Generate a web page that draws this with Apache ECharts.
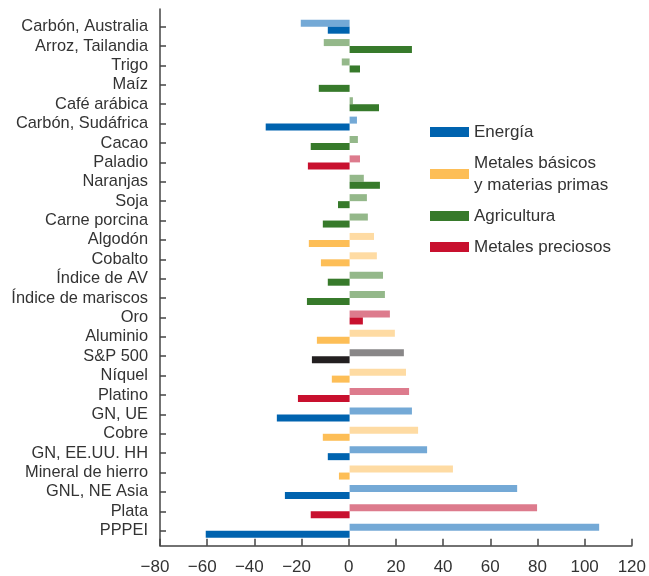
<!DOCTYPE html>
<html><head><meta charset="utf-8">
<script src="https://cdn.jsdelivr.net/npm/echarts@6/dist/echarts.min.js"></script>
<style>html,body{margin:0;padding:0;background:#fff}#c{width:649px;height:576px}</style>
</head><body><div id="c"></div>
<script>
const categories = ["Carbón, Australia","Arroz, Tailandia","Trigo","Maíz","Café arábica","Carbón, Sudáfrica","Cacao","Paladio","Naranjas","Soja","Carne porcina","Algodón","Cobalto","Índice de AV","Índice de mariscos","Oro","Aluminio","S&P 500","Níquel","Platino","GN, UE","Cobre","GN, EE.UU. HH","Mineral de hierro","GNL, NE Asia","Plata","PPPEI"];
const groups = ["E","A","A","A","A","E","A","P","A","A","A","M","M","A","A","P","M","S","M","P","E","M","E","M","E","P","E"];
const lightValues = [-20.6,-10.9,-3.3,0,1.4,3.1,3.5,4.4,6.0,7.3,7.7,10.3,11.5,14.1,14.9,17.0,19.1,22.9,23.8,25.1,26.3,28.9,32.7,43.6,70.7,79.1,105.3];
const darkValues = [-9.2,26.3,4.4,-13.0,12.4,-35.4,-16.4,-17.6,12.8,-4.9,-11.3,-17.2,-12.1,-9.2,-18.0,5.6,-13.8,-15.9,-7.5,-21.8,-30.7,-11.3,-9.2,-4.5,-27.3,-16.4,-60.7];
const legendNames = ["Energía","Metales básicos\ny materias primas","Agricultura","Metales preciosos"];
const legendGroups = ["E","M","A","P"];
const xTicks = {min:-80, max:120, interval:20};

const darkColor = {E:"#0063AF", M:"#FDBE57", A:"#377A2B", P:"#C8102E", S:"#231F20"};
const lightColor = {E:"#74A9D6", M:"#FEDBA3", A:"#94B88A", P:"#DD7B8D", S:"#898788"};

const FONT = "'Liberation Sans', Arial, sans-serif";
const TXT = "#333333";

const chart = echarts.init(document.getElementById('c'));
chart.setOption({
  animation:false,
  textStyle:{fontFamily:FONT},
  grid:[
    {left:160, right:15, top:9, bottom:30.3},
    {left:160, right:15, top:17, bottom:35.6}
  ],
  xAxis:[
    {gridIndex:0, type:'value', min:xTicks.min, max:xTicks.max, interval:xTicks.interval,
     axisLine:{show:true, onZero:false, lineStyle:{color:'#444', width:1.5}},
     axisTick:{show:true, inside:true, length:7, lineStyle:{color:'#444', width:1.5}},
     splitLine:{show:false},
     axisLabel:{color:TXT, fontSize:17, fontFamily:FONT, margin:13,
       formatter:v=> v<0 ? '{n|\u2212' + Math.abs(v) + '}' : String(v),
       rich:{n:{color:TXT, fontSize:17, fontFamily:FONT, padding:[0,10,0,0]}}}},
    {gridIndex:1, type:'value', min:xTicks.min, max:xTicks.max, interval:xTicks.interval, show:false}
  ],
  yAxis:[
    {gridIndex:0, type:'value', min:0, max:1,
     axisLine:{show:true, onZero:false, lineStyle:{color:'#444', width:1.5}},
     axisTick:{show:false}, axisLabel:{show:false}, splitLine:{show:false}},
    {gridIndex:1, type:'category', data:categories, inverse:true,
     axisLine:{show:false, onZero:false},
     axisTick:{show:true, inside:true, alignWithLabel:true, length:6, lineStyle:{color:'#444', width:1.5}},
     axisLabel:{color:TXT, fontSize:16.4, fontFamily:FONT, margin:12, interval:0}}
  ],
  legend:{
    orient:'vertical', left:430, top:121, padding:0, itemWidth:39, itemHeight:10, itemGap:9,
    icon:'rect',
    textStyle:{color:TXT, fontSize:17, fontFamily:FONT, lineHeight:22},
    data:legendNames
  },
  series:[
    {type:'bar', xAxisIndex:1, yAxisIndex:1, barWidth:7, barGap:'0%',
     data:lightValues.map((v,i)=>({value:v, itemStyle:{color:lightColor[groups[i]]}}))},
    {type:'bar', xAxisIndex:1, yAxisIndex:1, barWidth:7, barGap:'0%',
     data:darkValues.map((v,i)=>({value:v, itemStyle:{color:darkColor[groups[i]]}}))},
    ...legendNames.map((n,k)=>({type:'line', name:n, xAxisIndex:0, yAxisIndex:0, data:[],
      itemStyle:{color:darkColor[legendGroups[k]]}, lineStyle:{color:darkColor[legendGroups[k]]}}))
  ]
});
</script></body></html>
